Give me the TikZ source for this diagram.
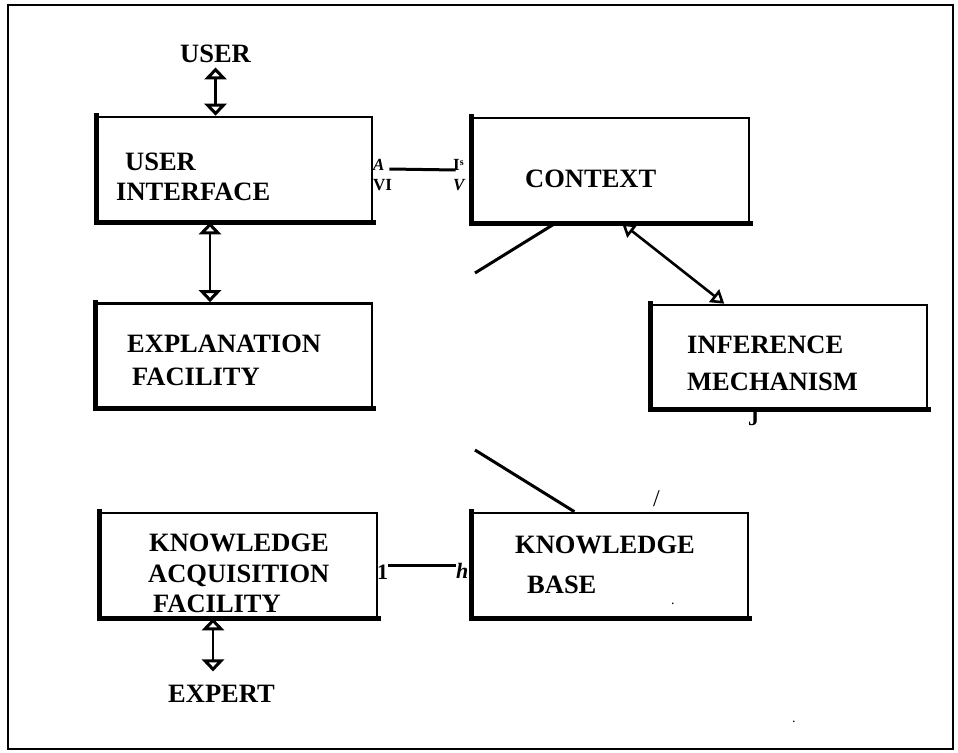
\documentclass[tikz,border=0pt]{standalone}
\usepackage{fontspec}
\setmainfont{Liberation Serif}
\usetikzlibrary{arrows.meta,calc}
\begin{document}
\begin{tikzpicture}[x=1pt,y=-1pt,
  box/.style={draw, line width=2.6pt, inner sep=0pt, minimum width=275pt, minimum height=104pt},
  heavyedge/.style={line width=5pt, line join=miter, line cap=rect},
  lbl/.style={font=\bfseries\fontsize{26.5}{28}\selectfont, inner sep=0pt, anchor=base west},
  small/.style={font=\bfseries\fontsize{17}{17}\selectfont, inner sep=0pt, anchor=base west},
  smallit/.style={small, font=\bfseries\itshape\fontsize{17}{17}\selectfont},
  conn/.style={line width=3pt},
  dbl/.style={line width=2.6pt, {Triangle[open, width=22pt, length=12pt, line width=3pt]}-{Triangle[open, width=22pt, length=12pt, line width=3pt]}},
  dblsmall/.style={line width=2.6pt, {Triangle[open, width=16pt, length=13pt, line width=2.6pt]}-{Triangle[open, width=16pt, length=13pt, line width=2.6pt]}}
]
\useasboundingbox (0,0) rectangle (958,752);
% outer frame
\draw[line width=2.8pt] (8,5) rectangle (953,749);

% boxes
\node[box, minimum width=274pt] (ui)   at (235,169)   {};
\node[box] (expl) at (234.5,355.5) {};
\node[box, minimum width=276pt] (ctx)  at (611,170)   {};
\node[box, minimum height=103pt] (inf)  at (789.5,356.5) {};
\node[box, minimum width=276pt] (kaf)  at (239,565)   {};
\node[box] (kb)   at (610.5,565) {};
\foreach \n in {ui,expl,ctx,inf,kaf,kb}
  \draw[heavyedge] (\n.north west) -- (\n.south west) -- (\n.south east);

% box texts
\node[lbl] (uil1) at (125,170) {USER};
\node[lbl] (uil2) at (116,200) {INTERFACE};
\node[lbl] (ctxl) at (525,187) {CONTEXT};
\node[lbl] (exl1) at (127,352) {EXPLANATION};
\node[lbl] (exl2) at (132,385) {FACILITY};
\node[lbl] (inl1) at (687,353) {INFERENCE};
\node[lbl] (inl2) at (687,390) {MECHANISM};
\node[lbl] (kal1) at (149,551) {KNOWLEDGE};
\node[lbl] (kal2) at (148,582) {ACQUISITION};
\node[lbl] (kal3) at (153,612) {FACILITY};
\node[lbl] (kbl1) at (515,553) {KNOWLEDGE};
\node[lbl] (kbl2) at (527,593) {BASE};

% outside texts
\node[lbl] (user) at (180,63) {USER};
\node[lbl] (expert) at (168,702) {EXPERT};
\node[lbl, font=\bfseries\fontsize{22}{22}\selectfont] (jl) at (748,425) {J};
\node[lbl, font=\fontsize{24}{24}\selectfont] (slash) at (653,506) {/};
\node[lbl, font=\fontsize{14}{14}\selectfont] (dot1) at (671,604) {.};
\node[lbl, font=\fontsize{14}{14}\selectfont] (dot2) at (792,722) {.};

% labels at UI-CONTEXT link
\node[smallit] (la) at (373,170) {A};
\node[small] (lvi) at (373,190) {VI};
\node[small] (lis) at (453,170) {I\raisebox{5pt}{\fontsize{10}{10}\selectfont s}};
\node[smallit] (lv) at (453,190) {V};

% labels at KAF-KB link
\node[lbl, font=\bfseries\fontsize{22}{22}\selectfont] (l1) at (377,579) {1};
\node[lbl, font=\bfseries\itshape\fontsize{22}{22}\selectfont] (lh) at (456,578) {h};

% connectors
\draw[dbl] ([yshift=-4pt]user.south) -- (ui.north -| user.south);
\draw[dbl] ([xshift=-25pt]ui.south) -- ([xshift=-24.5pt]expl.north);
\draw[dbl, shorten >=13pt] ([xshift=-26pt]kaf.south) -- ([xshift=-26pt]kaf.south |- expert.north);
\draw[conn] ([xshift=16pt]ui.east) -- ([xshift=-16pt]ctx.west);
\draw[conn] ([xshift=10pt]kaf.east) -- ([xshift=-16pt]kb.west);

\coordinate (d1) at (475,273);
\coordinate (d2) at (475,450);
\draw[conn] ($(ctx.south west)!0.3!(ctx.south east)$) -- (d1);
\draw[conn] (d2) -- ($(kb.north west)!0.37!(kb.north east)$);
\draw[dblsmall] ($(ctx.south west)!0.54!(ctx.south east)$) -- ($(inf.north west)!0.265!(inf.north east)$);
\end{tikzpicture}
\end{document}
